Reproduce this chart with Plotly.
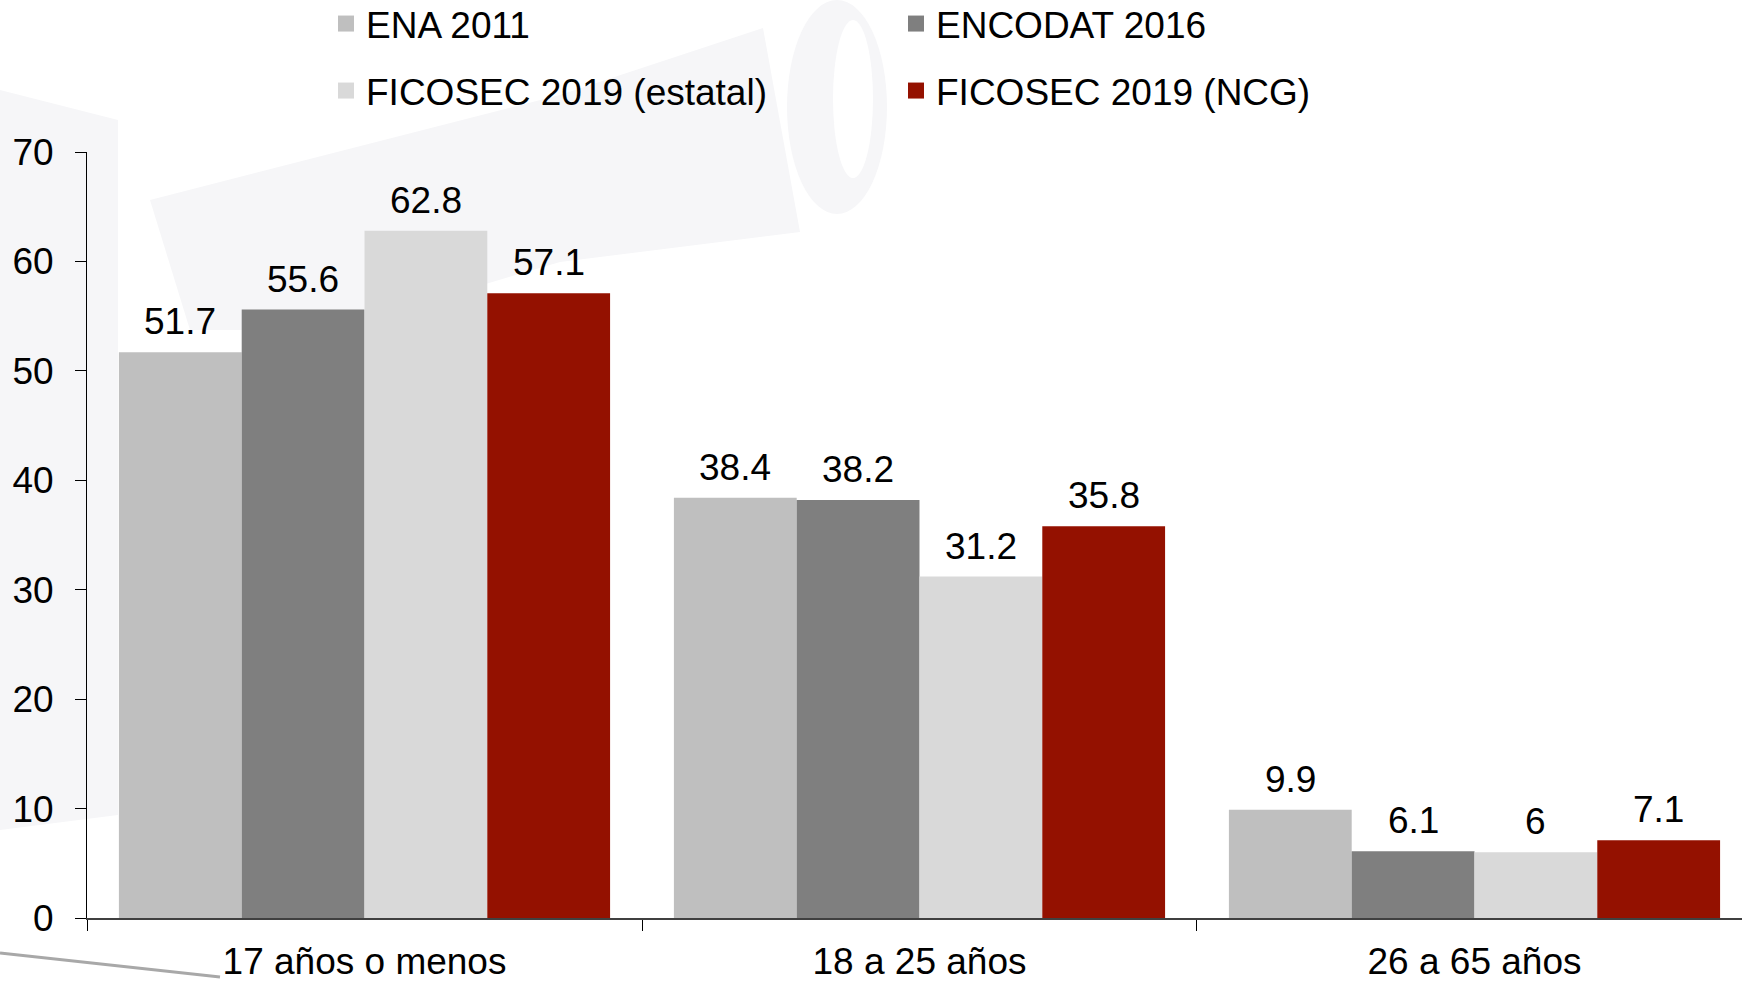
import plotly.graph_objects as go

# Age groups and survey series (percent)
categories = ["17 años o menos", "18 a 25 años", "26 a 65 años"]
series_names = ["ENA 2011", "ENCODAT 2016", "FICOSEC 2019 (estatal)", "FICOSEC 2019 (NCG)"]
ena_2011 = [51.7, 38.4, 9.9]
encodat_2016 = [55.6, 38.2, 6.1]
ficosec_estatal = [62.8, 31.2, 6]
ficosec_ncg = [57.1, 35.8, 7.1]
series_values = [ena_2011, encodat_2016, ficosec_estatal, ficosec_ncg]
colors = ["#bfbfbf", "#7f7f7f", "#d9d9d9", "#941100"]
y_ticks = [0, 10, 20, 30, 40, 50, 60, 70]

FONT = "Liberation Sans, Arial, sans-serif"
FS = 37
W, H = 1742, 981
ML, MR, MT, MB = 87, 0, 152, 63
X_RANGE = [-0.5, 2.482]
BARGAP = 0.115

plot_w = W - ML - MR
plot_h = H - MT - MB
px_per_cat = plot_w / (X_RANGE[1] - X_RANGE[0])
bar_w = px_per_cat * (1 - BARGAP) / len(series_names)


def px(x, y):
    """Pixel position -> paper coordinates."""
    return (x - ML) / plot_w, (H - MB - y) / plot_h


def path(points):
    parts = []
    for i, (x, y) in enumerate(points):
        u, v = px(x, y)
        parts.append(("M" if i == 0 else "L") + f"{u:.5f},{v:.5f}")
    return " ".join(parts) + " Z"


def ellipse(cx, cy, rx, ry, fill):
    u, v = px(cx, cy)
    du, dv = rx / plot_w, ry / plot_h
    return dict(type="circle", xref="paper", yref="paper", layer="below",
                x0=u - du, x1=u + du, y0=v - dv, y1=v + dv,
                line=dict(width=0), fillcolor=fill)


fig = go.Figure()

for i, (name, vals, col) in enumerate(zip(series_names, series_values, colors)):
    fig.add_trace(go.Bar(
        x=categories, y=vals, name=name, marker=dict(color=col, line=dict(width=0)),
        showlegend=False, hoverinfo="x+y+name",
    ))

# legend entries (square swatches)
for i, (name, col) in enumerate(zip(series_names, colors)):
    fig.add_trace(go.Scatter(
        x=[None], y=[None], mode="markers", name=name,
        marker=dict(symbol="square", size=16, color=col),
        legend="legend" if i < 2 else "legend2",
    ))

# value labels above each bar
annotations = []
for i, vals in enumerate(series_values):
    for cat, v in zip(categories, vals):
        annotations.append(dict(
            x=cat, y=v, xref="x", yref="y", text=f"{v:g}", showarrow=False,
            xanchor="center", yanchor="bottom", xshift=(i - 1.5) * bar_w, yshift=8,
            font=dict(family=FONT, size=FS, color="#000000"),
        ))

# faint background emblem
wm = "#f6f6f8"
shapes = [
    dict(type="path", xref="paper", yref="paper", layer="below", line=dict(width=0), fillcolor=wm,
         path=path([(0, 90), (118, 120), (118, 815), (0, 830)])),
    dict(type="path", xref="paper", yref="paper", layer="below", line=dict(width=0), fillcolor=wm,
         path=path([(190, 330), (150, 200), (560, 95), (763, 28), (800, 232), (560, 262), (330, 330)])),
    ellipse(837, 107, 50, 107, wm),
    ellipse(853, 99, 20, 79, "#ffffff"),
]
x0p, y0p = px(0, 953)
x1p, y1p = px(220, 977)
shapes.append(dict(type="line", xref="paper", yref="paper", layer="above",
                   x0=x0p, y0=y0p, x1=x1p, y1=y1p, line=dict(color="#a8a8a8", width=3)))

legend_common = dict(
    orientation="h", entrywidth=525, entrywidthmode="pixels",
    x=(326 - ML) / plot_w, xanchor="left", yref="container", yanchor="middle",
    font=dict(family=FONT, size=FS, color="#000000"), bgcolor="rgba(0,0,0,0)",
    itemsizing="trace", borderwidth=0,
)

fig.update_layout(
    width=W, height=H,
    margin=dict(l=ML, r=MR, t=MT, b=MB, pad=0),
    paper_bgcolor="#ffffff", plot_bgcolor="rgba(0,0,0,0)",
    barmode="group", bargap=BARGAP, bargroupgap=0,
    font=dict(family=FONT, size=FS, color="#000000"),
    legend=dict(legend_common, y=1 - 24 / H),
    legend2=dict(legend_common, y=1 - 91 / H),
    annotations=annotations,
    shapes=shapes,
    xaxis=dict(
        range=X_RANGE, showgrid=False, zeroline=False,
        showline=True, linecolor="#404040", linewidth=2,
        ticks="outside", tickson="boundaries", ticklen=11, tickcolor="#000000", tickwidth=1,
        tickfont=dict(family=FONT, size=FS, color="#000000"), ticklabelstandoff=10,
    ),
    yaxis=dict(
        range=[0, 70], tickvals=y_ticks, showgrid=False, zeroline=False,
        showline=True, linecolor="#000000", linewidth=1,
        ticks="outside", ticklen=11, tickcolor="#000000", tickwidth=1,
        tickfont=dict(family=FONT, size=FS, color="#000000"), ticklabelstandoff=14,
    ),
)

fig.write_html("out.html")
